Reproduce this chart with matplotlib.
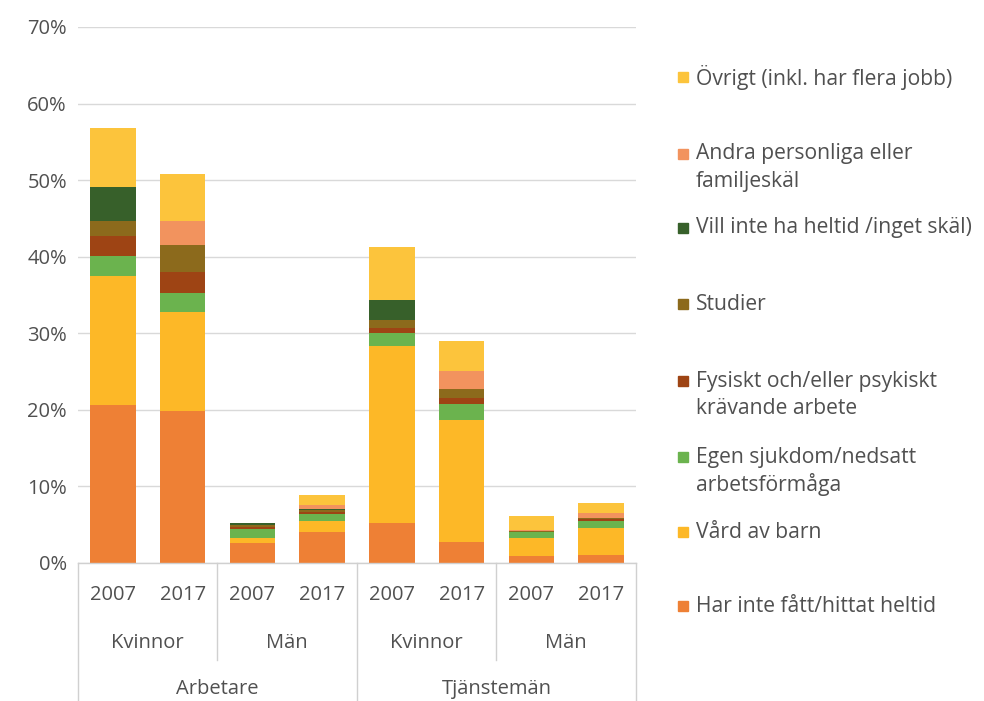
import numpy as np
import matplotlib
matplotlib.use("Agg")
import matplotlib.pyplot as plt
from matplotlib.patches import Rectangle

plt.rcParams['font.family'] = ['Open Sans', 'DejaVu Sans']

# data (andel i procent)
years = ["2007", "2017", "2007", "2017", "2007", "2017", "2007", "2017"]
genders = ["Kvinnor", "Män", "Kvinnor", "Män"]
groups = ["Arbetare", "Tjänstemän"]

har_inte = [20.6, 19.9, 2.6, 4.0, 5.2, 2.7, 0.9, 1.1]
vard_barn = [16.9, 12.9, 0.7, 1.5, 23.2, 16.0, 2.4, 3.5]
egen_sjuk = [2.6, 2.5, 1.2, 0.9, 1.7, 2.0, 0.7, 0.9]
fysiskt = [2.6, 2.7, 0.2, 0.2, 0.6, 0.9, 0.1, 0.2]
studier = [2.0, 3.5, 0.3, 0.3, 1.1, 1.1, 0.1, 0.2]
vill_inte = [4.4, 0.0, 0.2, 0.1, 2.5, 0.0, 0.0, 0.0]
andra = [0.0, 3.2, 0.0, 0.6, 0.0, 2.4, 0.1, 0.6]
ovrigt = [7.7, 6.1, 0.0, 1.3, 7.0, 3.9, 1.8, 1.3]

series = [har_inte, vard_barn, egen_sjuk, fysiskt, studier, vill_inte, andra, ovrigt]
labels = ["Har inte fått/hittat heltid",
          "Vård av barn",
          "Egen sjukdom/nedsatt\narbetsförmåga",
          "Fysiskt och/eller psykiskt\nkrävande arbete",
          "Studier",
          "Vill inte ha heltid /inget skäl)",
          "Andra personliga eller\nfamiljeskäl",
          "Övrigt (inkl. har flera jobb)"]
colors = ["#EE8035", "#FDB827", "#6BB34E", "#9E4414",
          "#8C6A1C", "#37602A", "#F2935E", "#FCC43C"]
txt_col = "#505050"
fs = 14.5
fs_leg = 15.2

W, H = 984, 701
fig = plt.figure(figsize=(W / 100, H / 100), dpi=100)

# axes placed in pixel terms
left, right, top, bottom = 78, 636, 27, 563
ax = fig.add_axes([left / W, (H - bottom) / H, (right - left) / W, (bottom - top) / H])

x = np.arange(len(years))
base = np.zeros(len(years))
for vals, col in zip(series, colors):
    ax.bar(x, vals, bottom=base, width=0.65, color=col, zorder=3)
    base = base + np.array(vals)

ax.set_xlim(-0.5, len(years) - 0.5)
ax.set_ylim(0, 70)
ax.set_yticks(np.arange(0, 71, 10))
ax.set_yticklabels([f"{v}%" for v in range(0, 71, 10)])
ax.tick_params(axis='y', length=0, pad=8, labelsize=fs, labelcolor=txt_col)
ax.set_xticks([])
for s in ax.spines.values():
    s.set_visible(False)
ax.grid(axis='y', color="#D9D9D9", lw=1, zorder=0)

# category labels under the axis
xt = ax.get_xaxis_transform()
line_col = "#D0D0D0"
ax.plot([-0.5, 7.5], [0, 0], color=line_col, lw=1, transform=xt, clip_on=False, zorder=4)

def fy(py):
    return (bottom - py) / (bottom - top)

for i, y in enumerate(years):
    ax.text(i, fy(595), y, ha='center', va='center', fontsize=fs,
            color=txt_col, transform=xt)
for j, g in enumerate(genders):
    ax.text(2 * j + 0.5, fy(643), g, ha='center', va='center', fontsize=fs,
            color=txt_col, transform=xt)
for k, g in enumerate(groups):
    ax.text(4 * k + 1.5, fy(689), g, ha='center', va='center', fontsize=fs,
            color=txt_col, transform=xt)

for xv, ylow in [(-0.5, H), (1.5, 660), (3.5, H), (5.5, 660), (7.5, H)]:
    ax.plot([xv, xv], [0, fy(ylow)], color=line_col, lw=1, transform=xt, clip_on=False)

# legend drawn by hand (uneven spacing as in the original)
leg_y = [606, 532, 457, 381, 304, 228, 154, 77]
for lab, col, py in zip(labels, colors, leg_y):
    fig.patches.append(Rectangle(((683 - 5) / W, (H - py - 5) / H), 10 / W, 10 / H,
                                 transform=fig.transFigure, color=col))
    fig.text(696 / W, (H - py) / H, lab.split("\n")[0], ha='left', va='center',
             fontsize=fs_leg, color=txt_col)
    if "\n" in lab:
        fig.text(696 / W, (H - py - 28) / H, lab.split("\n")[1], ha='left',
                 va='center', fontsize=fs_leg, color=txt_col)

fig.savefig("out.png", dpi=100)
